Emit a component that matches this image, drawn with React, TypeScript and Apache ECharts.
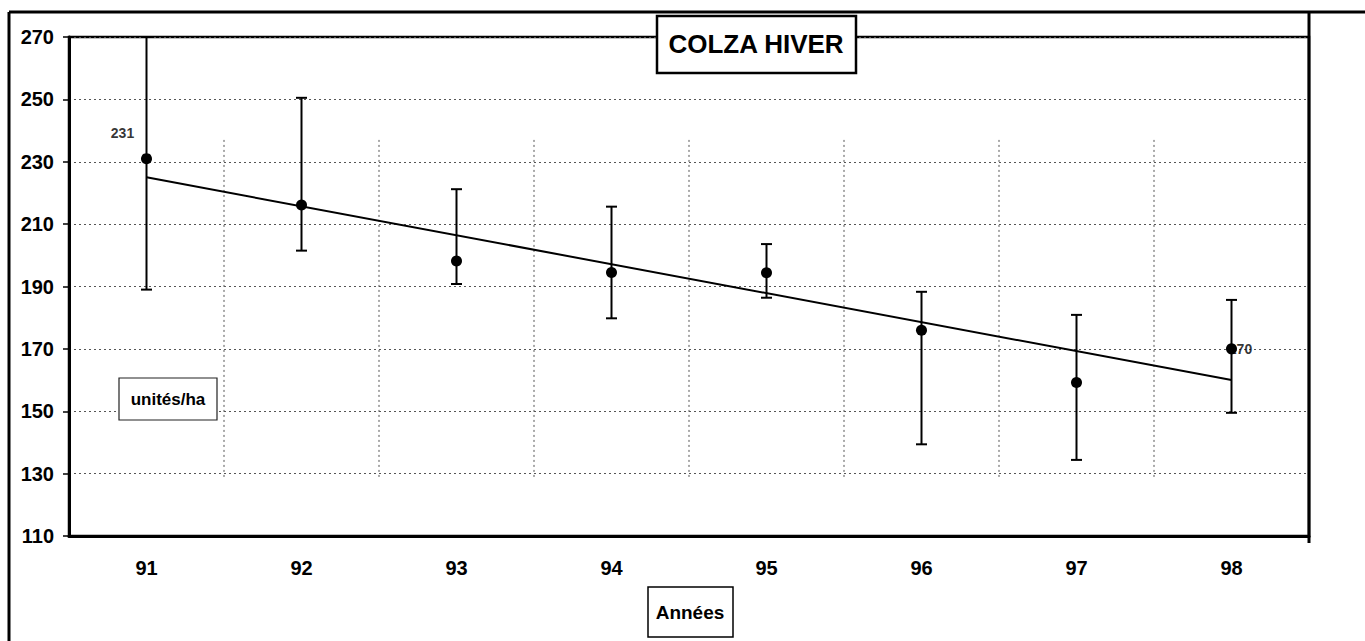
import React, { useEffect, useRef } from "react";
import * as echarts from "echarts";

const categories = ["91", "92", "93", "94", "95", "96", "97", "98"];
const means = [231, 216.1, 198.2, 194.5, 194.4, 176, 159.2, 170];
const lows = [189, 201.5, 190.8, 179.8, 186.4, 139.4, 134.4, 149.5];
const highs = [270, 250.5, 221.2, 215.6, 203.6, 188.3, 180.9, 185.7];
const trendStart = 225;
const trendEnd = 160;
const labelledPoints = [0, 7];
const yTicks = { min: 110, max: 270, interval: 20 };
const vGridSpan = [237, 128.5];

const FONT = '"Liberation Sans", Arial, sans-serif';

export default function App() {
  const ref = useRef<HTMLDivElement>(null);
  useEffect(() => {
    document.body.style.margin = "0";
    const chart = echarts.init(ref.current!, null, { renderer: "svg" });
    const lastIdx = categories.length - 1;
    const labelOffsets: Record<number, number[]> = { 0: [-24, -26], 7: [9, 0] };
    chart.setOption({
      animation: false,
      backgroundColor: "#fff",
      grid: {
        left: 69,
        right: 56,
        top: 37,
        bottom: 105,
        show: true,
        borderColor: "#000",
        borderWidth: 2.5,
        backgroundColor: "transparent",
      },
      xAxis: {
        type: "category",
        data: categories,
        boundaryGap: true,
        axisLine: { lineStyle: { color: "#000", width: 3 } },
        axisTick: { show: false },
        splitLine: { show: false },
        axisLabel: {
          color: "#000",
          fontSize: 20,
          fontWeight: "bold",
          fontFamily: FONT,
          margin: 22,
        },
      },
      yAxis: {
        type: "value",
        min: yTicks.min,
        max: yTicks.max,
        interval: yTicks.interval,
        axisLine: { show: true, lineStyle: { color: "#000", width: 3 } },
        axisTick: { show: true, length: 6, lineStyle: { color: "#000", width: 1.5 } },
        splitLine: { show: true, lineStyle: { color: "#555", type: [2, 3], width: 1 } },
        axisLabel: {
          color: "#000",
          fontSize: 20,
          fontWeight: "bold",
          fontFamily: FONT,
          margin: 15,
        },
      },
      series: [
        {
          type: "custom",
          z: 1,
          silent: true,
          data: categories.slice(0, lastIdx).map((_, i) => [i, vGridSpan[0], vGridSpan[1]]),
          renderItem: (params: any, api: any) => {
            const i = api.value(0);
            const half = api.size([1, 0])[0] / 2;
            const top = api.coord([i, api.value(1)]);
            const bot = api.coord([i, api.value(2)]);
            const x = top[0] + half;
            return {
              type: "line",
              shape: { x1: x, y1: top[1], x2: x, y2: bot[1] },
              style: { stroke: "#555", lineWidth: 1, lineDash: [2, 3] },
            };
          },
        },
        {
          type: "line",
          z: 2,
          data: [
            [0, trendStart],
            [lastIdx, trendEnd],
          ],
          symbol: "none",
          lineStyle: { color: "#000", width: 2 },
        },
        {
          type: "custom",
          z: 3,
          data: categories.map((_, i) => [i, lows[i], highs[i]]),
          renderItem: (params: any, api: any) => {
            const i = api.value(0);
            const lo = api.coord([i, api.value(1)]);
            const hi = api.coord([i, api.value(2)]);
            const w = 5.5;
            const st = { stroke: "#000", lineWidth: 2 };
            return {
              type: "group",
              children: [
                { type: "line", shape: { x1: lo[0], y1: lo[1], x2: hi[0], y2: hi[1] }, style: st },
                { type: "line", shape: { x1: lo[0] - w, y1: lo[1], x2: lo[0] + w, y2: lo[1] }, style: st },
                { type: "line", shape: { x1: hi[0] - w, y1: hi[1], x2: hi[0] + w, y2: hi[1] }, style: st },
              ],
            };
          },
        },
        {
          type: "scatter",
          z: 4,
          symbolSize: 0,
          silent: true,
          data: labelledPoints.map((i) => ({
            value: [i, means[i]],
            label: {
              show: true,
              position: "inside",
              offset: labelOffsets[i],
              formatter: String(Math.round(means[i])),
              color: "#000",
              fontSize: 14,
              fontWeight: "bold",
              fontFamily: FONT,
            },
          })),
        },
        {
          type: "scatter",
          z: 5,
          symbol: "circle",
          symbolSize: 11,
          itemStyle: { color: "#000", opacity: 1 },
          data: means.map((v, i) => [i, v]),
        },
      ],
      graphic: [
        { type: "line", shape: { x1: 9, y1: 12, x2: 1365, y2: 12 }, style: { stroke: "#000", lineWidth: 3 } },
        { type: "line", shape: { x1: 9, y1: 12, x2: 9, y2: 641 }, style: { stroke: "#000", lineWidth: 3 } },
        { type: "line", shape: { x1: 1309, y1: 12, x2: 1309, y2: 543 }, style: { stroke: "#000", lineWidth: 3 } },
        {
          type: "rect",
          shape: { x: 657, y: 16, width: 199, height: 57 },
          style: { fill: "#fff", stroke: "#000", lineWidth: 2.5 },
          z: 100,
        },
        {
          type: "text",
          x: 756,
          y: 44,
          z: 101,
          style: {
            text: "COLZA HIVER",
            fill: "#000",
            font: `bold 26px ${FONT}`,
            align: "center",
            verticalAlign: "middle",
          },
        },
        {
          type: "rect",
          shape: { x: 119, y: 378, width: 98, height: 42 },
          style: { fill: "#fff", stroke: "#222", lineWidth: 1.2 },
          z: 100,
        },
        {
          type: "text",
          x: 168,
          y: 399,
          z: 101,
          style: {
            text: "unités/ha",
            fill: "#000",
            font: `bold 17px ${FONT}`,
            align: "center",
            verticalAlign: "middle",
          },
        },
        {
          type: "rect",
          shape: { x: 648, y: 587, width: 85, height: 50 },
          style: { fill: "#fff", stroke: "#000", lineWidth: 1.5 },
          z: 100,
        },
        {
          type: "text",
          x: 690,
          y: 612,
          z: 101,
          style: {
            text: "Années",
            fill: "#000",
            font: `bold 19px ${FONT}`,
            align: "center",
            verticalAlign: "middle",
          },
        },
      ],
    });
    return () => chart.dispose();
  }, []);
  return (
    <div
      ref={ref}
      style={{ position: "fixed", left: 0, top: 0, width: 1365, height: 641 }}
    />
  );
}
